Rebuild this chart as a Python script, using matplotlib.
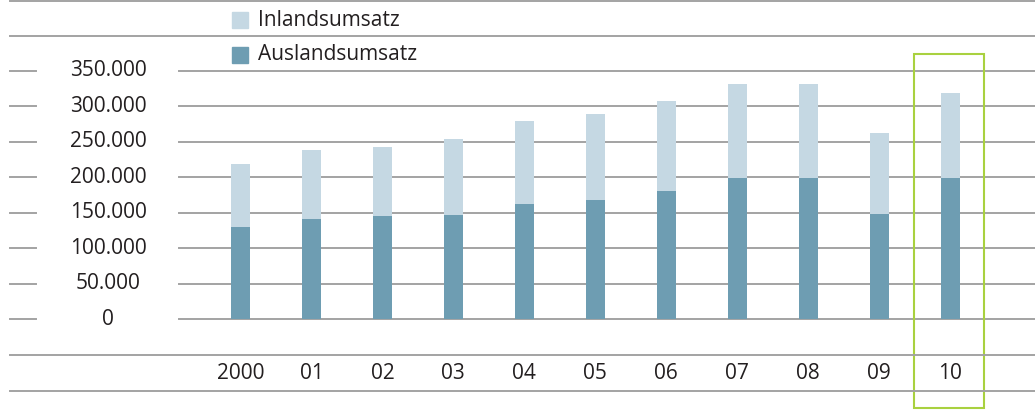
import numpy as np
import matplotlib
matplotlib.use("Agg")
import matplotlib.pyplot as plt
from matplotlib.patches import Rectangle

plt.rcParams['font.family'] = ['Open Sans', 'DejaVu Sans']

# Daten (Umsatz, in Tsd.)
jahre = ["2000", "01", "02", "03", "04", "05", "06", "07", "08", "09", "10"]
auslandsumsatz = [130000, 141000, 145000, 147000, 162000, 168000, 180000, 199000, 199000, 148000, 199000]
gesamtumsatz = [219000, 238000, 243000, 254000, 279000, 289000, 307000, 332000, 332000, 262000, 319000]
inlandsumsatz = [g - a for g, a in zip(gesamtumsatz, auslandsumsatz)]
y_ticks = [0, 50000, 100000, 150000, 200000, 250000, 300000, 350000]

W, H = 1035, 419
farbe_hell = "#c5d8e3"
farbe_dunkel = "#6e9db2"
farbe_text = "#231f20"
farbe_linie = "#a3a3a3"
farbe_rahmen = "#a9d13f"

fig = plt.figure(figsize=(W / 100, H / 100), dpi=100)
ax = fig.add_axes([0, 0, 1, 1])
ax.set_axis_off()

# Skalen so waehlen, dass 0 bei Pixel 319 und 350.000 bei Pixel 71 liegt
px_pro_wert = 248 / 350000
ax.set_ylim(-(H - 319) / px_pro_wert, 319 / px_pro_wert)
abstand = 70.95
x0 = 240.5
ax.set_xlim(-x0 / abstand, (W - x0) / abstand)

x = np.arange(len(jahre))
breite = 19 / abstand

# Gitterlinien und kurze Striche links
for t in y_ticks:
    ax.axhline(t, xmin=179 / W, xmax=1, color=farbe_linie, lw=1.4, zorder=1)
    ax.axhline(t, xmin=10 / W, xmax=36 / W, color=farbe_linie, lw=1.4, zorder=1)
    ax.text(108 / W, t, f"{t:,}".replace(",", "."), transform=ax.get_yaxis_transform(),
            ha="center", va="center", fontsize=15, color=farbe_text)

# durchgehende Linien (oben / Achsenzeile)
for py in [1.5, 36, 355, 391]:
    fig.add_artist(plt.Line2D([10 / W, 1], [1 - py / H, 1 - py / H], color=farbe_linie, lw=1.4))

# Balken
ax.bar(x, auslandsumsatz, width=breite, color=farbe_dunkel, zorder=2)
ax.bar(x, inlandsumsatz, width=breite, bottom=auslandsumsatz, color=farbe_hell, zorder=2)

# Jahresbeschriftung
for xi, j in zip(x, jahre):
    ax.text(xi, 1 - 373 / H, j, transform=ax.get_xaxis_transform(),
            ha="center", va="center", fontsize=15, color=farbe_text)

# Legende
for py, farbe, name in [(20, farbe_hell, "Inlandsumsatz"), (55, farbe_dunkel, "Auslandsumsatz")]:
    fig.add_artist(Rectangle((232 / W, 1 - (py + 8) / H), 16 / W, 16 / H,
                             transform=fig.transFigure, color=farbe))
    fig.text(258 / W, 1 - py / H, name, ha="left", va="center", fontsize=15, color=farbe_text)

# Rahmen um 2010
fig.add_artist(Rectangle((914 / W, 1 - 408 / H), 70 / W, 354 / H, transform=fig.transFigure,
                         fill=False, edgecolor=farbe_rahmen, lw=1.5))

fig.savefig("out.png", dpi=100)
